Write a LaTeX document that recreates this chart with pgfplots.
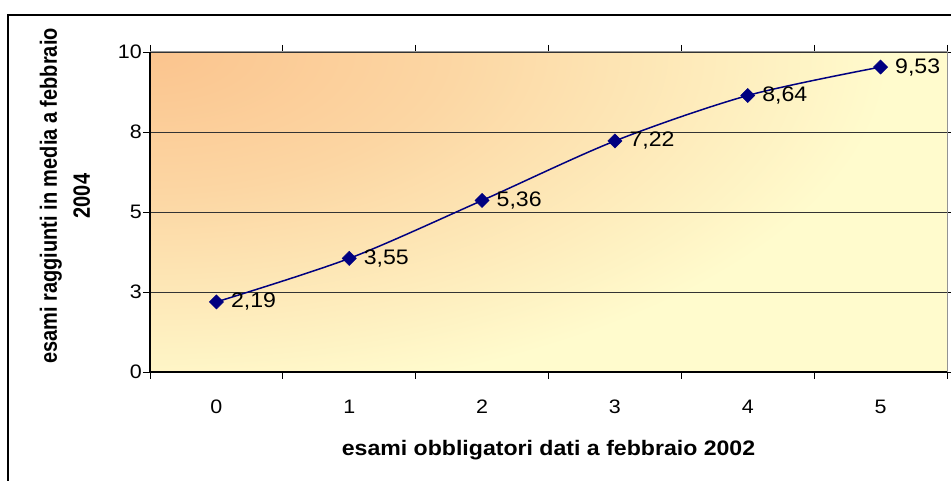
\documentclass[border=0pt]{standalone}
\usepackage{graphicx}
\usepackage{fontspec}
\setmainfont{Liberation Sans}[FakeStretch=1.1]
\newfontfamily\ylfont{Liberation Sans}
\usepackage{pgfplots}
\pgfplotsset{compat=1.18}
\definecolor{bgA}{HTML}{FBC48E}
\definecolor{bgB}{HTML}{FCD6A3}
\definecolor{bgC}{HTML}{FFFBCD}
\definecolor{navyline}{HTML}{000080}
\pgfdeclareradialshading{bgshade}{\pgfpoint{0bp}{0bp}}{color(0bp)=(bgA); color(10bp)=(bgB); color(25bp)=(bgC); color(50bp)=(bgC)}
\begin{document}
\begin{tikzpicture}[x=1pt,y=1pt]
\useasboundingbox (0,0) rectangle (951,481);
\draw[line width=1.2pt,black] (8,-2) -- (8,466) -- (953,466);
\begin{scope}
\clip (150,109) rectangle (947,429);
\fill[bgC] (150,109) rectangle (947,429);
\shade[shading=bgshade] (150,429) ellipse [x radius=740, y radius=350];
\end{scope}
\begin{axis}[
  at={(150pt,109pt)}, anchor=south west,
  scale only axis, width=797pt, height=320pt,
  xmin=-0.5, xmax=5.5, ymin=0, ymax=10,
  clip=false,
  axis line style={draw=gray!85, line width=1pt},
  tick align=outside,
  xtick={0,1,2,3,4,5}, xticklabels={0,1,2,3,4,5},
  major x tick style={draw=none},
  minor xtick={-0.5,0.5,1.5,2.5,3.5,4.5,5.5},
  minor x tick style={black, line width=0.9pt},
  minor tick length=7pt,
  ytick={0,2.5,5,7.5,10}, yticklabels={0,3,5,8,10},
  major tick length=7pt,
  y tick style={black, line width=0.9pt},
  ymajorgrids,
  major grid style={black!80, line width=0.8pt},
  tick label style={font=\fontsize{19.5}{21}\selectfont},
  xticklabel style={anchor=base, yshift=-35pt},
  yticklabel style={anchor=east, inner sep=0pt, xshift=-1pt},
  xlabel={\bfseries esami obbligatori dati a febbraio 2002},
  xlabel style={at={(axis description cs:0.5,-0.2625)}, anchor=base, font=\fontsize{21}{24}\selectfont},
  ylabel={\scalebox{1}[1.18]{\ylfont\bfseries esami raggiunti in media a febbraio}\\\scalebox{1}[1.18]{\ylfont\bfseries 2004}},
  ylabel style={at={(axis description cs:-0.1066,0.55)}, anchor=center, align=center, font=\fontsize{20}{33}\selectfont},
  after end axis/.code={\draw[black,line width=1.2pt] (rel axis cs:0,1) -- (rel axis cs:0,0) -- (rel axis cs:1,0);},
]
\addplot[navyline, line width=1.5pt, smooth, tension=0.5,
  mark=square*, mark size=5pt, mark options={rotate=45, fill=navyline, draw=navyline, line width=0.5pt},
  point meta=explicit symbolic, nodes near coords,
  nodes near coords style={anchor=west, xshift=11pt, text=black, font=\fontsize{21}{23}\selectfont}]
  table[meta=label] {
x y label
0 2.19 {2,19}
1 3.55 {3,55}
2 5.36 {5,36}
3 7.22 {7,22}
4 8.64 {8,64}
5 9.53 {9,53}
};
\end{axis}
\end{tikzpicture}
\end{document}
